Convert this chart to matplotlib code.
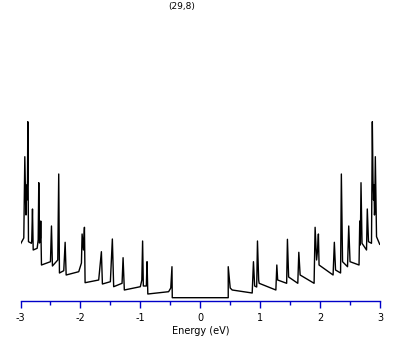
import matplotlib
matplotlib.use("Agg")
import matplotlib.pyplot as plt
from matplotlib.ticker import MultipleLocator

# Densidad de estados del nanotubo (29,8) (unidades arbitrarias)
energy = [
    -3.000, -2.945, -2.928, -2.912, -2.908, -2.900, -2.892, -2.883, -2.878, -2.867,
    -2.817, -2.812, -2.800, -2.788, -2.722, -2.705, -2.695, -2.683, -2.667, -2.662,
    -2.650, -2.500, -2.483, -2.467, -2.378, -2.362, -2.350, -2.278, -2.255, -2.238,
    -2.028, -1.983, -1.972, -1.950, -1.933, -1.922, -1.695, -1.650, -1.633, -1.500,
    -1.467, -1.445, -1.305, -1.288, -1.267, -1.000, -0.975, -0.962, -0.950, -0.900,
    -0.888, -0.875, -0.528, -0.492, -0.472, -0.467,
    0.467, 0.467, 0.500, 0.533, 0.867, 0.888, 0.908, 0.942, 0.955, 0.975,
    0.983, 1.262, 1.278, 1.292, 1.442, 1.455, 1.475, 1.628, 1.645, 1.667,
    1.900, 1.917, 1.942, 1.958, 1.972, 1.983, 2.217, 2.238, 2.258, 2.342,
    2.355, 2.375, 2.458, 2.478, 2.500, 2.650, 2.662, 2.672, 2.683, 2.700,
    2.775, 2.788, 2.808, 2.858, 2.872, 2.883, 2.892, 2.900, 2.908, 2.912,
    2.922, 2.942, 2.995,
]
dos = [
    5.37, 5.97, 14.10, 8.77, 8.27, 11.27, 9.77, 11.77, 17.60, 5.60,
    5.44, 5.77, 8.87, 4.77, 4.94, 5.77, 11.50, 5.47, 5.97, 7.67,
    3.27, 3.60, 7.17, 3.17, 3.77, 12.37, 2.47, 2.70, 5.54, 2.27,
    2.60, 3.47, 6.37, 4.77, 7.04, 1.50, 1.77, 4.60, 1.37, 1.60,
    5.87, 1.10, 1.44, 4.00, 0.77, 1.10, 1.77, 5.67, 1.17, 1.17,
    3.60, 0.37, 0.60, 0.97, 3.10, 0.00,
    0.00, 3.10, 0.97, 0.77, 0.47, 3.60, 1.17, 1.07, 5.67, 1.77,
    1.44, 0.77, 3.27, 1.77, 1.44, 5.84, 2.07, 1.44, 4.54, 2.27,
    1.44, 7.04, 3.77, 4.77, 6.37, 3.27, 2.27, 5.54, 2.77, 2.47,
    12.37, 3.60, 3.10, 7.17, 3.60, 3.27, 7.67, 5.27, 11.50, 5.44,
    4.77, 8.87, 5.60, 5.44, 17.60, 11.77, 9.77, 11.27, 8.27, 8.77,
    14.10, 6.10, 5.34,
]

title = "(29,8)"
xlabel = "Energy (eV)"
xlim = (-3, 3)

plt.rcParams["axes.unicode_minus"] = False
axis_color = "#0000c8"

fig = plt.figure(figsize=(4.09, 3.45), dpi=100)
ax = fig.add_axes([20.5 / 409, 44 / 345, 359.5 / 409, 280 / 345])

ax.plot(energy, dos, color="black", linewidth=1.0)

ax.set_xlim(*xlim)
ax.set_ylim(-0.33, 27.67)

# Solo el eje inferior en azul
for side in ["top", "left", "right"]:
    ax.spines[side].set_visible(False)
ax.spines["bottom"].set_color(axis_color)
ax.spines["bottom"].set_linewidth(1.0)
ax.set_yticks([])

ax.xaxis.set_major_locator(MultipleLocator(1))
ax.xaxis.set_minor_locator(MultipleLocator(0.5))
ax.tick_params(axis="x", which="major", direction="out", length=5, width=1.0,
               color=axis_color, labelsize=7, pad=3.5, labelcolor="black")
ax.tick_params(axis="x", which="minor", direction="out", length=3, width=1.0,
               color=axis_color)

ax.set_xlabel(xlabel, fontsize=7, labelpad=2)
fig.text(182 / 409, 1 - 7 / 345, title, fontsize=6.5, ha="center", va="center")

fig.savefig("out.png", dpi=100)
